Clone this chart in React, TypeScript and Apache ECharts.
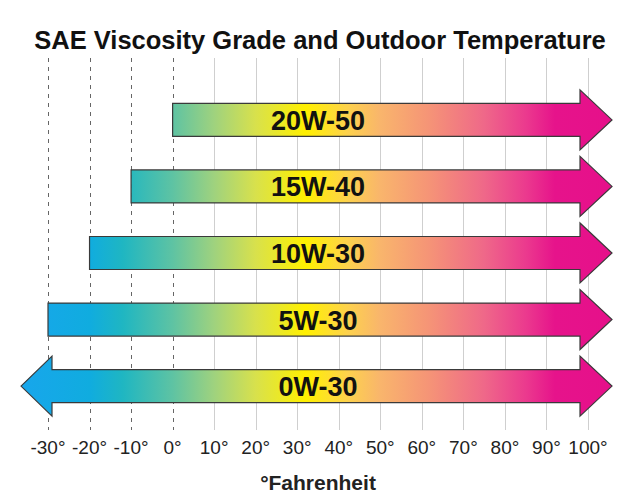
import React, { useEffect, useRef } from "react";
import * as echarts from "echarts";

const GRADES = ["0W-30", "5W-30", "10W-30", "15W-40", "20W-50"];
const LOW_TEMP = [-30, -30, -20, -10, 0];
const HIGH_TEMP = [100, 100, 100, 100, 100];
const LOW_OPEN = [1, 0, 0, 0, 0];
const TICKS = [-30, -20, -10, 0, 10, 20, 30, 40, 50, 60, 70, 80, 90, 100];
const COLOR_TEMPS = [-37, -20, -12, 0, 10, 20, 32, 42, 50, 62, 75, 85, 92, 106];
const COLORS = [
  "#18a6ec", "#10acdf", "#1fb6c2", "#5ec3a3", "#9fd27e", "#d8e14c", "#fff000",
  "#fdd24c", "#f9b56c", "#f59377", "#ef6889", "#eb3a8e", "#e6138b", "#e6108a",
];
const LABEL_AT = 35;
const FONT = "'Liberation Sans', Arial, Helvetica, sans-serif";

export default function App() {
  const ref = useRef<HTMLDivElement>(null);
  useEffect(() => {
    const chart = echarts.init(ref.current!, null, { renderer: "svg" });
    const arrowData = GRADES.map((g, i) => [LOW_TEMP[i], HIGH_TEMP[i], i, LOW_OPEN[i]]);
    const option = {
      animation: false,
      backgroundColor: "#ffffff",
      title: {
        text: "SAE Viscosity Grade and Outdoor Temperature",
        left: "center",
        top: 22,
        textStyle: { fontFamily: FONT, fontSize: 25.5, fontWeight: "bold", color: "#111" },
      },
      grid: { left: 48, right: 52, top: 58, bottom: 74 },
      xAxis: {
        type: "value",
        min: -30,
        max: 100,
        interval: 10,
        axisLine: { show: false },
        axisTick: { show: false },
        splitLine: { show: false },
        axisLabel: {
          formatter: "{value}°",
          fontFamily: FONT,
          fontSize: 19,
          color: "#222",
          margin: 8,
        },
        name: "°Fahrenheit",
        nameLocation: "middle",
        nameGap: 42,
        nameTextStyle: { fontFamily: FONT, fontSize: 21, fontWeight: "bold", color: "#222" },
      },
      yAxis: { type: "value", min: -0.66, max: 4.93, show: false },
      series: [
        {
          type: "custom",
          z: 1,
          data: TICKS.map((t) => [t, 0]),
          encode: { x: 0, y: 1 },
          renderItem: (params: any, api: any) => {
            const t = api.value(0);
            const x = Math.round(api.coord([t, 0])[0]) + 0.5;
            const cs = params.coordSys;
            return {
              type: "line",
              shape: { x1: x, y1: cs.y, x2: x, y2: cs.y + cs.height },
              style: {
                stroke: t <= 0 ? "#666" : "#cfcfcf",
                lineWidth: 1,
                lineDash: t <= 0 ? [4, 5] : null,
              },
            };
          },
        },
        {
          type: "custom",
          z: 2,
          data: arrowData,
          encode: { x: [0, 1], y: 2 },
          renderItem: (params: any, api: any) => {
            const lo = api.value(0);
            const hi = api.value(1);
            const row = api.value(2);
            const open = api.value(3);
            const [xLo, yc] = api.coord([lo, row]);
            const xHi = api.coord([hi, row])[0];
            const bh = 16.5;
            const hh = 30;
            const rb = xHi - 8;
            const tip = xHi + 24;
            let pts: number[][];
            if (open) {
              const lb = xLo + 4;
              const lt = xLo - 27;
              pts = [
                [lt, yc], [lb, yc - hh], [lb, yc - bh], [rb, yc - bh], [rb, yc - hh],
                [tip, yc], [rb, yc + hh], [rb, yc + bh], [lb, yc + bh], [lb, yc + hh],
              ];
            } else {
              pts = [
                [xLo, yc - bh], [rb, yc - bh], [rb, yc - hh], [tip, yc],
                [rb, yc + hh], [rb, yc + bh], [xLo, yc + bh],
              ];
            }
            const gx0 = api.coord([COLOR_TEMPS[0], row])[0];
            const gx1 = api.coord([COLOR_TEMPS[COLOR_TEMPS.length - 1], row])[0];
            const colorStops = COLOR_TEMPS.map((t, k) => ({
              offset: Math.min(1, Math.max(0, (api.coord([t, row])[0] - gx0) / (gx1 - gx0))),
              color: COLORS[k],
            }));
            const lx = api.coord([LABEL_AT, row])[0];
            return {
              type: "group",
              children: [
                {
                  type: "polygon",
                  shape: { points: pts },
                  style: {
                    fill: {
                      type: "linear",
                      x: gx0, y: 0, x2: gx1, y2: 0,
                      global: true,
                      colorStops,
                    },
                    stroke: "#3a3a3a",
                    lineWidth: 1.2,
                    lineJoin: "miter",
                  },
                },
                {
                  type: "text",
                  style: {
                    text: GRADES[params.dataIndex],
                    x: lx,
                    y: yc + 1,
                    align: "center",
                    verticalAlign: "middle",
                    fontFamily: FONT,
                    fontSize: 27,
                    fontWeight: "bold",
                    fill: "#111",
                  },
                },
              ],
            };
          },
        },
      ],
    };
    chart.setOption(option as any);
    return () => chart.dispose();
  }, []);
  return (
    <div
      ref={ref}
      style={{ position: "fixed", left: 0, top: 0, width: 640, height: 504, background: "#fff" }}
    />
  );
}
